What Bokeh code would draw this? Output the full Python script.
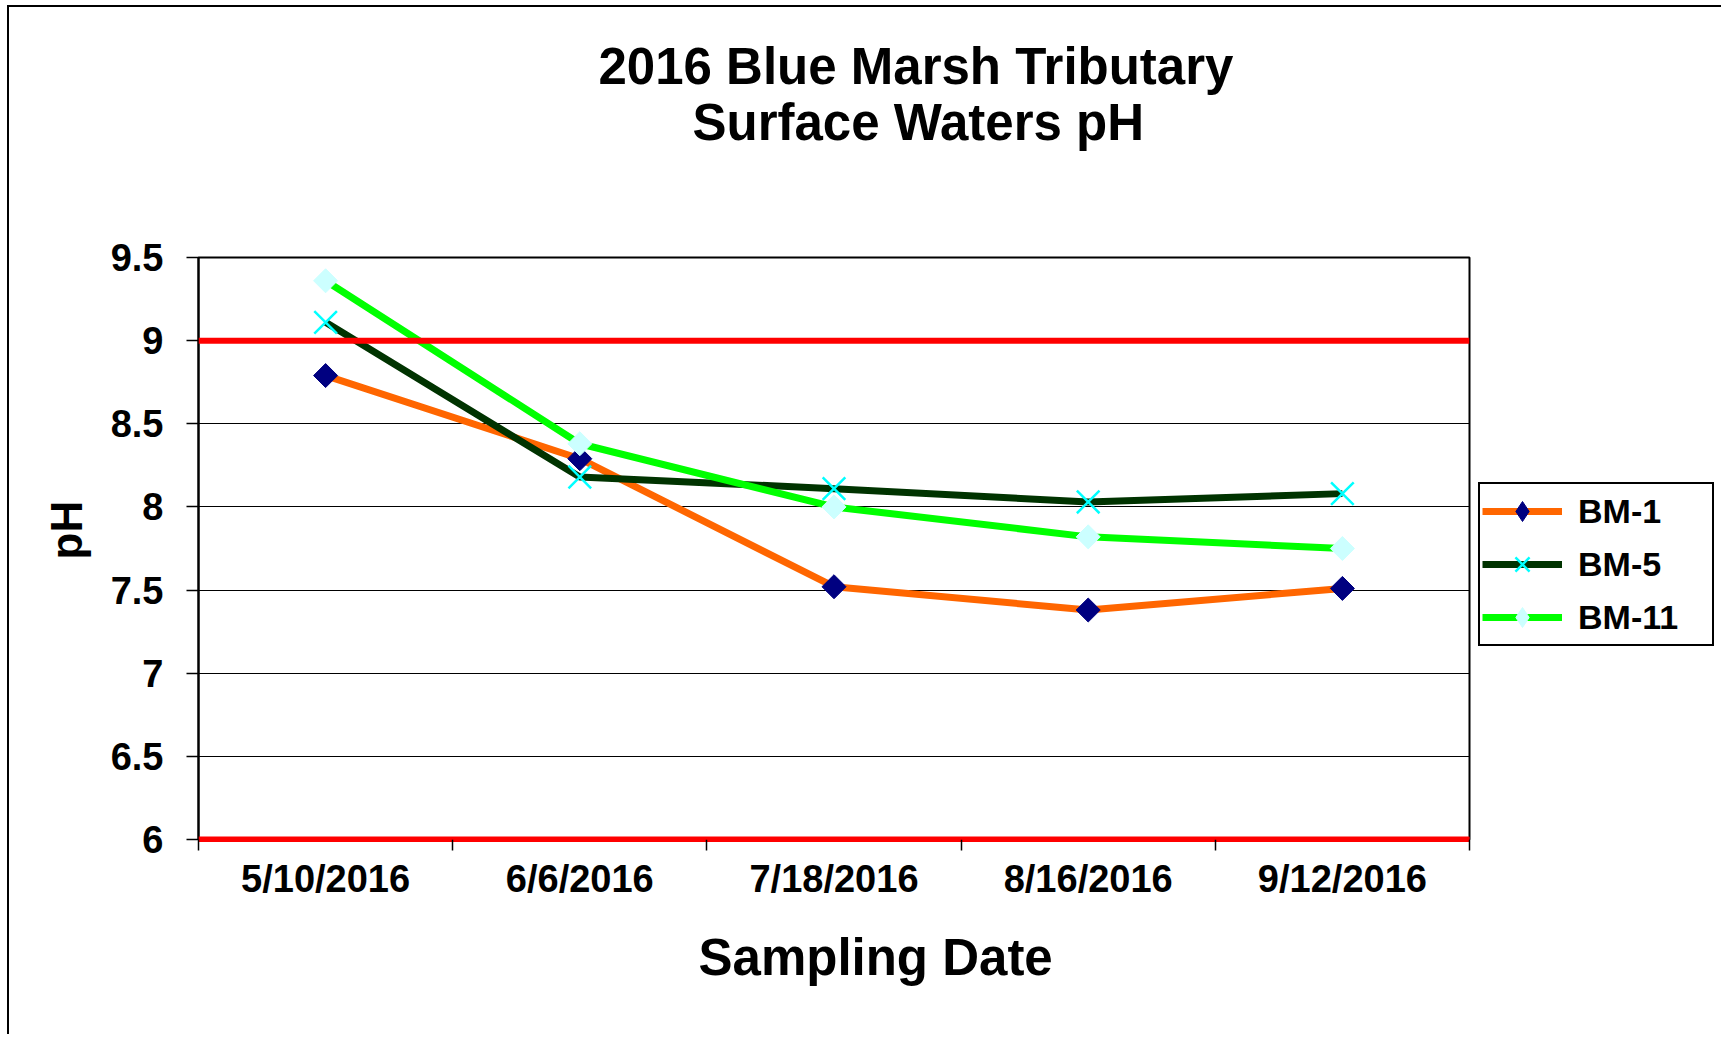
import numpy as np
from bokeh.plotting import figure
from bokeh.models import Range1d, FixedTicker, Span, Legend, LegendItem, Title
from bokeh.embed import file_html
from bokeh.resources import INLINE

# ---- data ----
dates = ["5/10/2016", "6/6/2016", "7/18/2016", "8/16/2016", "9/12/2016"]
bm1 = [8.79, 8.29, 7.52, 7.38, 7.51]
bm5 = [9.11, 8.18, 8.11, 8.03, 8.08]
bm11 = [9.36, 8.38, 8.00, 7.82, 7.75]
y_ticks = [6, 6.5, 7, 7.5, 8, 8.5, 9, 9.5]
y_tick_labels = ["6", "6.5", "7", "7.5", "8", "8.5", "9", "9.5"]
limits = [9, 6]
series_names = ["BM-1", "BM-5", "BM-11"]
title_lines = ["2016 Blue Marsh Tributary", "Surface Waters pH"]
x_title = "Sampling Date"
y_title = "pH"

FONT = "Liberation Sans"

n = len(dates)
xc = [i + 0.5 for i in range(n)]

p = figure(frame_width=1271, frame_height=582,
           x_range=Range1d(0, n), y_range=Range1d(y_ticks[0], y_ticks[-1]),
           output_backend="svg", toolbar_location=None,
           min_border_left=189, min_border_right=250,
           min_border_top=250, min_border_bottom=195)
p.styles = {"border-left": "2px solid black", "border-top": "2px solid black",
            "margin-left": "7px", "margin-top": "5px"}
p.background_fill_color = "white"
p.border_fill_color = "white"
p.outline_line_color = "black"
p.outline_line_width = 2
p.outline_line_alpha = 1

# x axis: labels at centers, ticks at category boundaries
xt = FixedTicker(ticks=xc, minor_ticks=list(range(n + 1)))
xa = p.xaxis[0]
xa.ticker = xt
xa.major_label_overrides = {c: d for c, d in zip(xc, dates)}
xa.major_tick_in = 0
xa.major_tick_out = 0
xa.major_tick_line_color = None
xa.minor_tick_in = 0
xa.minor_tick_out = 11
xa.minor_tick_line_color = "black"
xa.minor_tick_line_width = 1.5
xa.axis_line_color = "#FF0000"
xa.axis_line_width = 5
xa.major_label_standoff = 7
xa.major_label_text_font = FONT
xa.major_label_text_font_style = "bold"
xa.major_label_text_font_size = "38px"
xa.major_label_text_color = "black"

yt = FixedTicker(ticks=y_ticks)
ya = p.yaxis[0]
ya.ticker = yt
ya.major_label_overrides = {v: s for v, s in zip(y_ticks, y_tick_labels)}
ya.major_tick_in = 0
ya.major_tick_out = 12
ya.major_tick_line_color = "black"
ya.major_tick_line_width = 1.5
ya.minor_tick_line_color = None
ya.axis_line_color = "black"
ya.axis_line_width = 2
ya.major_label_standoff = 23
ya.major_label_text_font = FONT
ya.major_label_text_font_style = "bold"
ya.major_label_text_font_size = "38px"
ya.major_label_text_color = "black"

p.xgrid.grid_line_color = None
p.ygrid.ticker = yt
p.ygrid.grid_line_color = "black"
p.ygrid.grid_line_width = 1.2

# hidden diamond renderers, only used for the legend swatches
d1 = p.scatter(xc, bm1, marker="diamond", fill_color="#000080", line_color="#000080", visible=False)
d3 = p.scatter(xc, bm11, marker="diamond", fill_color="#CCFFFF", line_color="#CCFFFF", visible=False)

# series
l1 = p.line(xc, bm1, line_color="#FF6600", line_width=7, line_join="round")
m1 = p.scatter(xc, bm1, marker="square", size=17, angle=np.pi / 4,
               fill_color="#000080", line_color="#000080")
l2 = p.line(xc, bm5, line_color="#003300", line_width=7, line_join="round")
m2 = p.scatter(xc, bm5, marker="x", size=32, line_color="#00FFFF", line_width=2.5)
l3 = p.line(xc, bm11, line_color="#00FF00", line_width=7, line_join="round")
m3 = p.scatter(xc, bm11, marker="square", size=17, angle=np.pi / 4,
               fill_color="#CCFFFF", line_color="#CCFFFF")

for v in limits:
    p.add_layout(Span(location=v, dimension="width", line_color="#FF0000", line_width=6))

legend = Legend(items=[LegendItem(label=series_names[0], renderers=[l1, d1]),
                       LegendItem(label=series_names[1], renderers=[l2, m2]),
                       LegendItem(label=series_names[2], renderers=[l3, d3])],
                location=(9, 193))
legend.border_line_color = "black"
legend.border_line_width = 2
legend.border_line_alpha = 1
legend.background_fill_color = "white"
legend.background_fill_alpha = 1
legend.inactive_fill_alpha = 0
legend.label_text_font = FONT
legend.label_text_font_style = "bold"
legend.label_text_font_size = "34px"
legend.label_text_color = "black"
legend.padding = 2
legend.spacing = 3
legend.glyph_width = 80
legend.glyph_height = 50
legend.label_height = 50
legend.label_width = 132
legend.label_standoff = 16
legend.margin = 0
p.add_layout(legend, "right")

# titles (stacked outward from the frame)
p.add_layout(Title(text=" ", text_font_size="1px", standoff=104), "above")
p.add_layout(Title(text=title_lines[1], align="left", offset=494, standoff=0,
                   text_font=FONT, text_font_style="bold", text_font_size="51px",
                   text_color="black"), "above")
p.add_layout(Title(text=title_lines[0], align="left", offset=400, standoff=-6,
                   text_font=FONT, text_font_style="bold", text_font_size="51px",
                   text_color="black"), "above")
p.add_layout(Title(text=x_title, align="left", offset=500, standoff=52,
                   vertical_align="top",
                   text_font=FONT, text_font_style="bold", text_font_size="51px",
                   text_color="black"), "below")
p.add_layout(Title(text=y_title, align="left", offset=280, standoff=33,
                   text_font=FONT, text_font_style="bold", text_font_size="44px",
                   text_color="black"), "left")

open("out.html", "w").write(file_html(p, INLINE))
